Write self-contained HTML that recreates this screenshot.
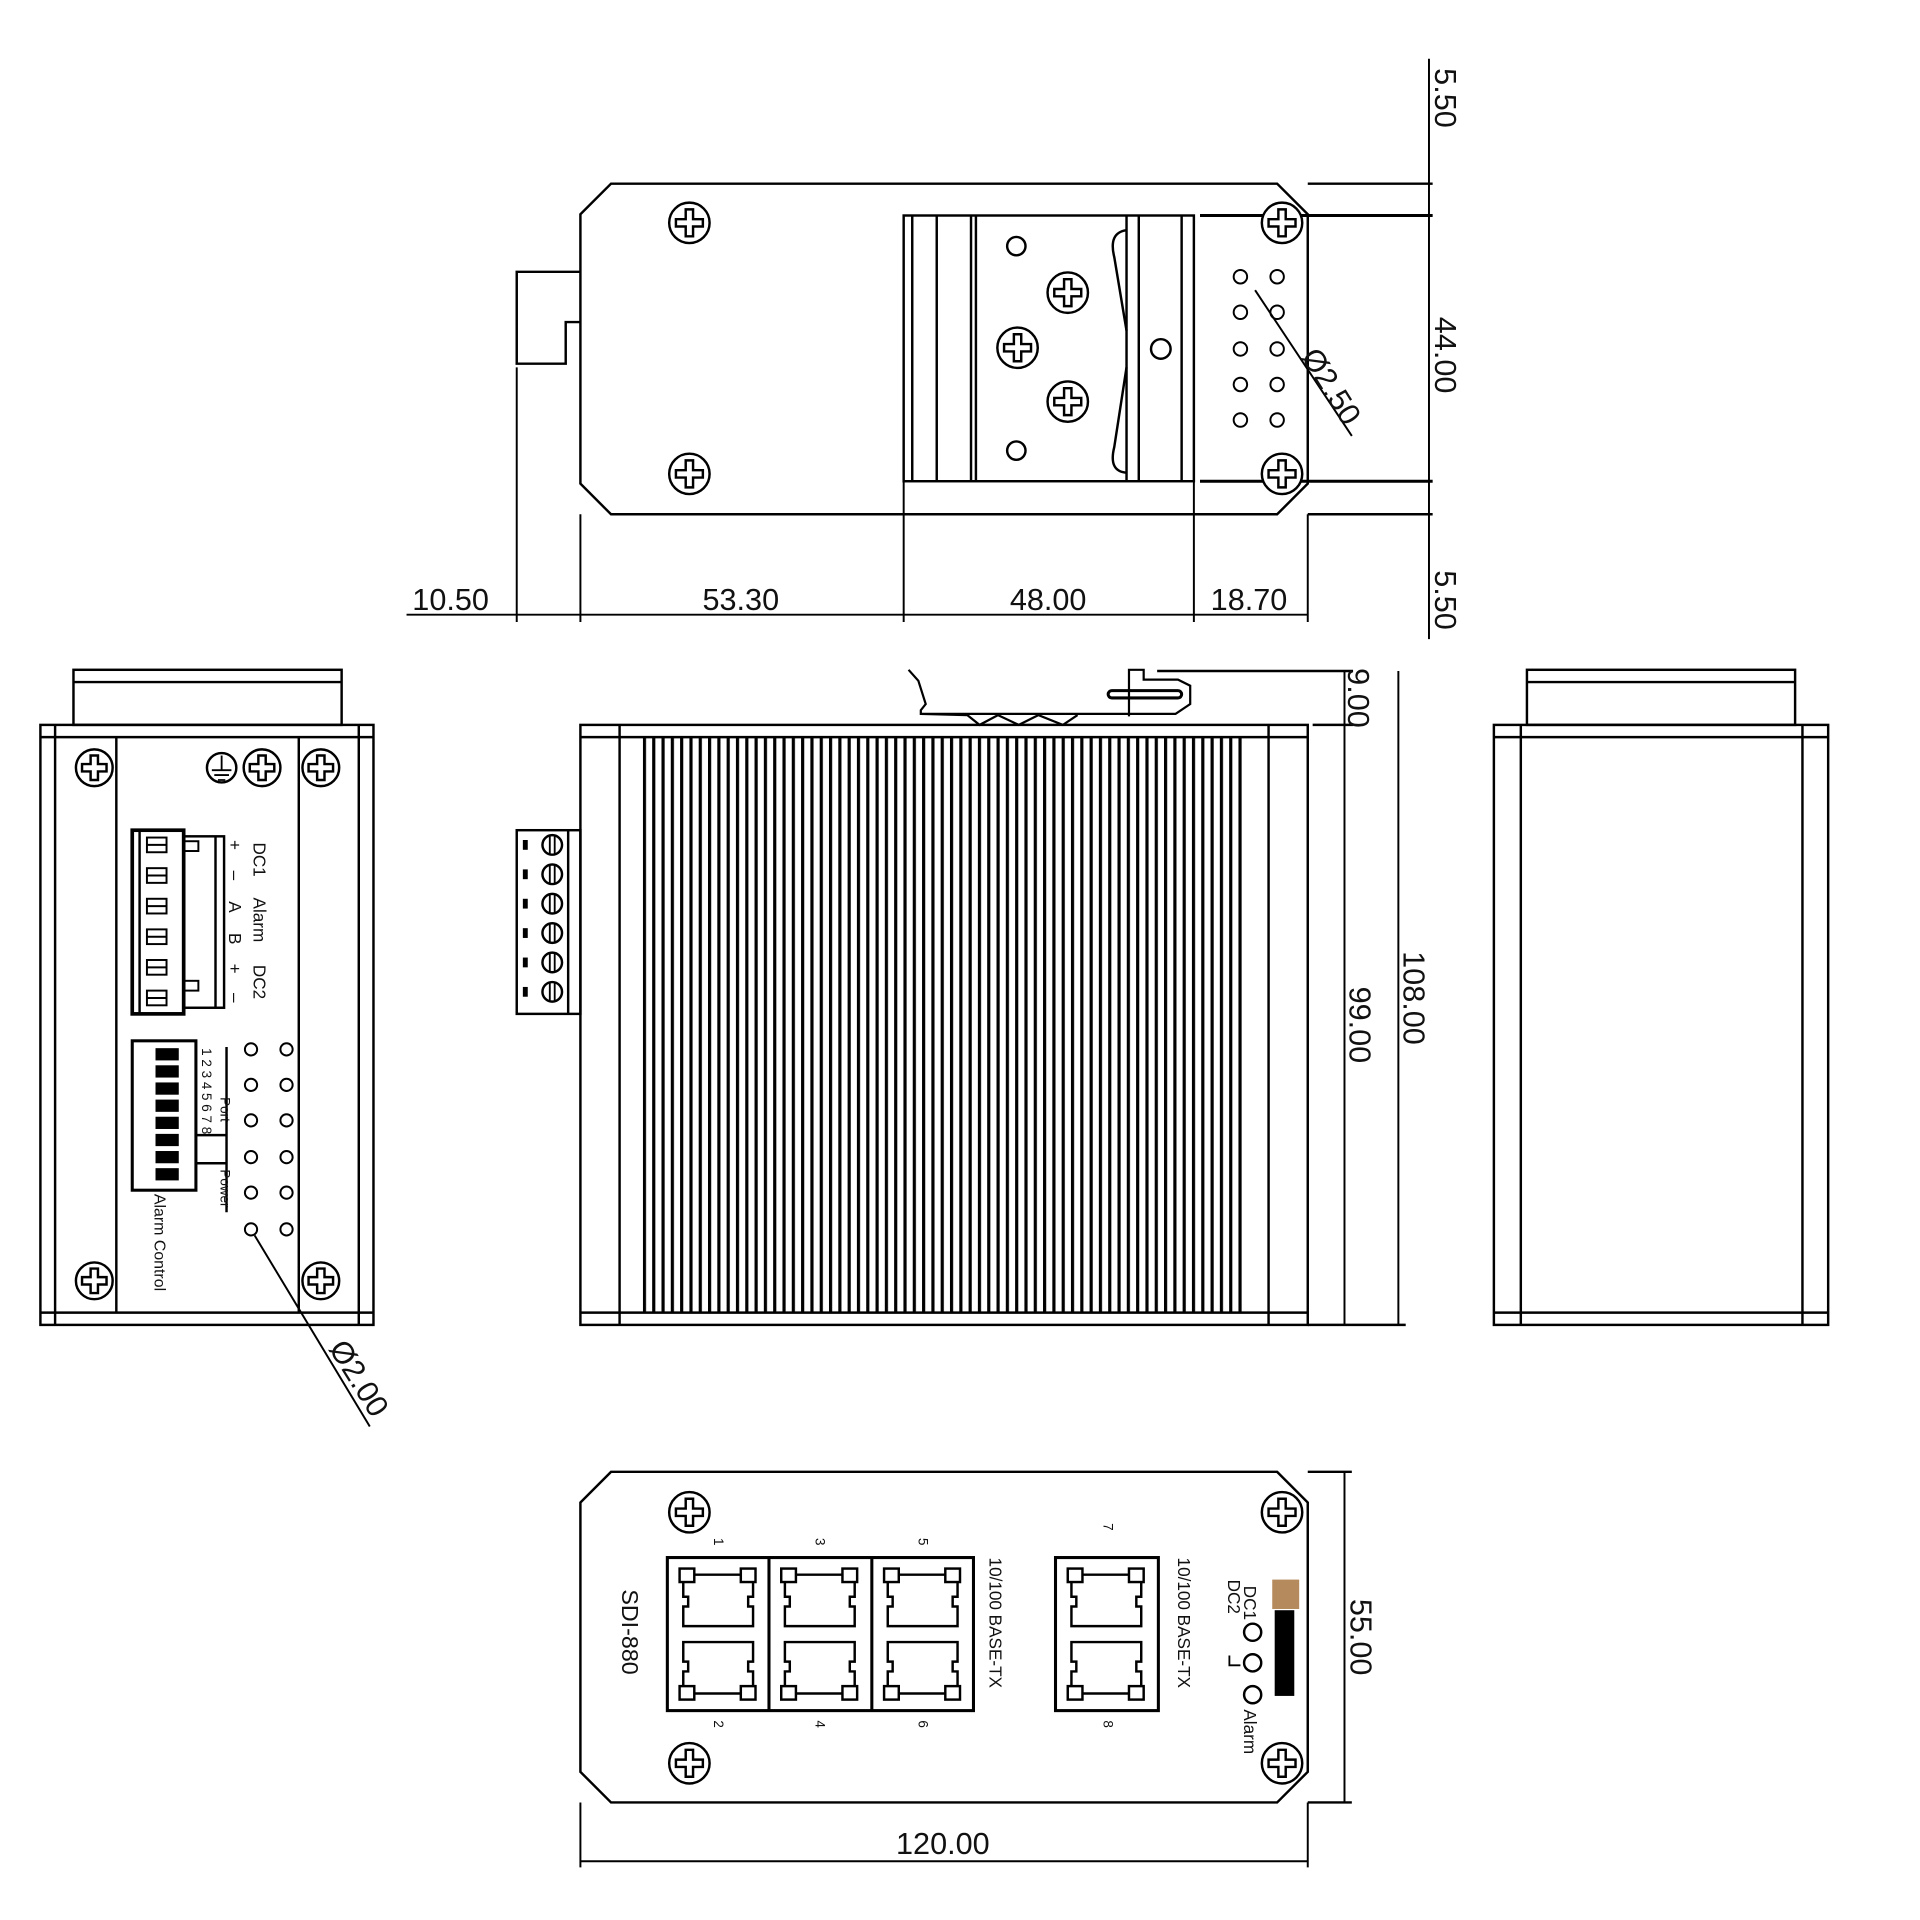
<!DOCTYPE html>
<html><head><meta charset="utf-8"><style>
html,body{margin:0;padding:0;background:#fff;overflow:hidden}
svg{display:block}
text{font-family:"Liberation Sans",sans-serif;fill:#111}
</style></head><body>
<svg width="1920" height="1920" viewBox="0 0 1568 1568" xmlns="http://www.w3.org/2000/svg">
<defs>
<g id="scr">
<circle r="16.5" fill="#fff" stroke="#000" stroke-width="2"/>
<path d="M-3,-11 H3 V-3 H11 V3 H3 V11 H-3 V3 H-11 V-3 H-3 Z" fill="none" stroke="#000" stroke-width="2"/>
</g>
<g id="scs">
<circle r="15" fill="#fff" stroke="#000" stroke-width="2"/>
<path d="M-3,-10 H3 V-3 H10 V3 H3 V10 H-3 V3 H-10 V-3 H-3 Z" fill="none" stroke="#000" stroke-width="2"/>
</g>
<g id="jack">
<path d="M13,14 H70 V32 H66 V40 H70 V56 H13 V40 H17 V32 H13 Z" fill="none" stroke="#000" stroke-width="2"/>
<rect x="10" y="9" width="12" height="11" fill="#fff" stroke="#000" stroke-width="2"/>
<rect x="60" y="9" width="12" height="11" fill="#fff" stroke="#000" stroke-width="2"/>
</g>
<pattern id="fins" x="525" y="0" width="7.6" height="10" patternUnits="userSpaceOnUse">
<rect x="0" y="0" width="2.6" height="10" fill="#000"/>
</pattern>
</defs>
<g fill="none" stroke="#000" stroke-width="2">
<!-- TOP VIEW -->
<path d="M499,150 H1043 L1068,175 V395 L1043,420 H499 L474,395 V175 Z"/>
<path d="M474,222 H422 V297 H462 V263 H474"/>
<rect x="738" y="176" width="237" height="217"/>
<line x1="745" y1="176" x2="745" y2="393"/><line x1="765" y1="176" x2="765" y2="393"/>
<line x1="793" y1="176" x2="793" y2="393"/><line x1="797" y1="176" x2="797" y2="393"/>
<line x1="920" y1="176" x2="920" y2="393"/><line x1="930" y1="176" x2="930" y2="393"/>
<line x1="965" y1="176" x2="965" y2="393"/>
<path d="M920,188 Q905,190 910,210 L920,270 M920,300 L910,365 Q905,385 920,386" />
<circle cx="830" cy="201" r="7.5"/><circle cx="830" cy="368" r="7.5"/><circle cx="948" cy="285" r="8"/>
<g stroke-width="1.6">
<circle cx="1013" cy="226" r="5.5"/><circle cx="1043" cy="226" r="5.5"/>
<circle cx="1013" cy="255" r="5.5"/><circle cx="1043" cy="255" r="5.5"/>
<circle cx="1013" cy="285" r="5.5"/><circle cx="1043" cy="285" r="5.5"/>
<circle cx="1013" cy="314" r="5.5"/><circle cx="1043" cy="314" r="5.5"/>
<circle cx="1013" cy="343" r="5.5"/><circle cx="1043" cy="343" r="5.5"/>
</g>
<line x1="1025" y1="237" x2="1104" y2="356" stroke-width="1.6"/>
<line x1="980" y1="176" x2="1170" y2="176" stroke-width="2.5"/>
<line x1="980" y1="393" x2="1170" y2="393" stroke-width="2.5"/>
<line x1="1068" y1="150" x2="1170" y2="150"/>
<line x1="1068" y1="420" x2="1170" y2="420"/>
<line x1="1167" y1="48" x2="1167" y2="522" stroke-width="1.6"/>
<line x1="332" y1="502" x2="1068" y2="502" stroke-width="1.6"/>
<line x1="422" y1="300" x2="422" y2="508" stroke-width="1.6"/>
<line x1="474" y1="420" x2="474" y2="508" stroke-width="1.6"/>
<line x1="738" y1="393" x2="738" y2="508" stroke-width="1.6"/>
<line x1="975" y1="393" x2="975" y2="508" stroke-width="1.6"/>
<line x1="1068" y1="420" x2="1068" y2="508" stroke-width="1.6"/>

<!-- LEFT (FRONT) VIEW -->
<rect x="60" y="547" width="219" height="45"/><line x1="60" y1="557" x2="279" y2="557"/>
<rect x="33" y="592" width="272" height="490"/>
<line x1="33" y1="602" x2="305" y2="602"/><line x1="33" y1="1072" x2="305" y2="1072"/>
<line x1="45" y1="592" x2="45" y2="1082"/><line x1="95" y1="602" x2="95" y2="1072"/>
<line x1="244" y1="602" x2="244" y2="1072"/><line x1="293" y1="592" x2="293" y2="1082"/>
<rect x="108" y="678" width="42" height="150" stroke-width="3"/>
<rect x="150" y="683" width="33" height="140"/><line x1="176" y1="683" x2="176" y2="823"/>
<line x1="114" y1="678" x2="114" y2="828"/>
<g stroke-width="1.6">
<rect x="120" y="684" width="16" height="12"/><rect x="120" y="709" width="16" height="12"/>
<rect x="120" y="734" width="16" height="12"/><rect x="120" y="759" width="16" height="12"/>
<rect x="120" y="784" width="16" height="12"/><rect x="120" y="809" width="16" height="12"/>
<line x1="120" y1="690" x2="136" y2="690"/><line x1="120" y1="715" x2="136" y2="715"/>
<line x1="120" y1="740" x2="136" y2="740"/><line x1="120" y1="765" x2="136" y2="765"/>
<line x1="120" y1="790" x2="136" y2="790"/><line x1="120" y1="815" x2="136" y2="815"/>
<rect x="150" y="687" width="12" height="8"/><rect x="150" y="801" width="12" height="8"/>
</g>
<rect x="108" y="850" width="52" height="122" stroke-width="2.5"/>
<path d="M160,927 H185 V855 M185,927 V990 M160,950 H185"/>
<g stroke-width="1.6">
<circle cx="205" cy="857" r="5"/><circle cx="234" cy="857" r="5"/>
<circle cx="205" cy="886" r="5"/><circle cx="234" cy="886" r="5"/>
<circle cx="205" cy="915" r="5"/><circle cx="234" cy="915" r="5"/>
<circle cx="205" cy="945" r="5"/><circle cx="234" cy="945" r="5"/>
<circle cx="205" cy="974" r="5"/><circle cx="234" cy="974" r="5"/>
<circle cx="205" cy="1004" r="5"/><circle cx="234" cy="1004" r="5"/>
<line x1="208" y1="1009" x2="302" y2="1165"/>
</g>
<circle cx="181" cy="627" r="12"/>
<path d="M181,617 V629 M173,629 H189 M175,633 H187 M178,637 H184" stroke-width="1.5"/>

<!-- SIDE VIEW -->
<rect x="474" y="592" width="594" height="490"/>
<line x1="474" y1="602" x2="1068" y2="602"/><line x1="474" y1="1072" x2="1068" y2="1072"/>
<line x1="506" y1="592" x2="506" y2="1082"/><line x1="1036" y1="592" x2="1036" y2="1082"/>
<rect x="422" y="678" width="52" height="150"/>
<line x1="464" y1="678" x2="464" y2="828"/>
<path d="M742,547 L750,556 L756,575 L752,580 V583 H960 L972,575 V560 L962,555 H934 V547 H922 V585 M752,583 L790,584 M790,584 L800,592 L815,584 L832,592 L848,584 L868,592 L880,584" stroke-width="1.8"/>
<rect x="905" y="564" width="60" height="6" rx="3" stroke-width="2.5"/>
<line x1="945" y1="548" x2="1105" y2="548"/>
<line x1="1072" y1="592" x2="1105" y2="592"/>
<line x1="1098" y1="548" x2="1098" y2="1082" stroke-width="1.6"/>
<line x1="1142" y1="548" x2="1142" y2="1082" stroke-width="1.6"/>
<line x1="1068" y1="1082" x2="1148" y2="1082"/>

<!-- RIGHT VIEW -->
<rect x="1247" y="547" width="219" height="45"/><line x1="1247" y1="557" x2="1466" y2="557"/>
<rect x="1220" y="592" width="273" height="490"/>
<line x1="1220" y1="602" x2="1493" y2="602"/><line x1="1220" y1="1072" x2="1493" y2="1072"/>
<line x1="1242" y1="592" x2="1242" y2="1082"/><line x1="1472" y1="592" x2="1472" y2="1082"/>

<!-- BOTTOM VIEW -->
<path d="M499,1202 H1043 L1068,1227 V1447 L1043,1472 H499 L474,1447 V1227 Z"/>
<rect x="545" y="1272" width="250" height="125" stroke-width="2.5"/>
<line x1="628" y1="1272" x2="628" y2="1397" stroke-width="2.5"/>
<line x1="712" y1="1272" x2="712" y2="1397" stroke-width="2.5"/>
<rect x="862" y="1272" width="84" height="125" stroke-width="2.5"/>
<line x1="1098" y1="1202" x2="1098" y2="1472" stroke-width="1.6"/>
<line x1="1068" y1="1202" x2="1104" y2="1202"/>
<line x1="1068" y1="1472" x2="1104" y2="1472"/>
<line x1="474" y1="1472" x2="474" y2="1525" stroke-width="1.6"/>
<line x1="1068" y1="1472" x2="1068" y2="1525" stroke-width="1.6"/>
<line x1="474" y1="1520" x2="1068" y2="1520" stroke-width="1.6"/>
<circle cx="1023" cy="1333" r="7"/><circle cx="1023" cy="1358" r="7"/><circle cx="1023" cy="1384" r="7"/>
<path d="M1004,1352 V1360 H1013" stroke-width="1.5"/>
</g>

<rect x="525" y="602" width="492" height="470" fill="url(#fins)"/>

<g fill="#fff" stroke="#000" stroke-width="2">
<circle cx="451" cy="690" r="8"/><circle cx="451" cy="714" r="8"/><circle cx="451" cy="738" r="8"/>
<circle cx="451" cy="762" r="8"/><circle cx="451" cy="786" r="8"/><circle cx="451" cy="810" r="8"/>
</g>
<g stroke="#000" stroke-width="1.5">
<line x1="449" y1="682" x2="449" y2="698"/><line x1="453" y1="682" x2="453" y2="698"/>
<line x1="449" y1="706" x2="449" y2="722"/><line x1="453" y1="706" x2="453" y2="722"/>
<line x1="449" y1="730" x2="449" y2="746"/><line x1="453" y1="730" x2="453" y2="746"/>
<line x1="449" y1="754" x2="449" y2="770"/><line x1="453" y1="754" x2="453" y2="770"/>
<line x1="449" y1="778" x2="449" y2="794"/><line x1="453" y1="778" x2="453" y2="794"/>
<line x1="449" y1="802" x2="449" y2="818"/><line x1="453" y1="802" x2="453" y2="818"/>
</g>
<g fill="#000">
<rect x="427" y="686" width="4" height="8"/><rect x="427" y="710" width="4" height="8"/>
<rect x="427" y="734" width="4" height="8"/><rect x="427" y="758" width="4" height="8"/>
<rect x="427" y="782" width="4" height="8"/><rect x="427" y="806" width="4" height="8"/>
<rect x="127" y="856" width="19" height="10"/><rect x="127" y="870" width="19" height="10"/>
<rect x="127" y="884" width="19" height="10"/><rect x="127" y="898" width="19" height="10"/>
<rect x="127" y="912" width="19" height="10"/><rect x="127" y="926" width="19" height="10"/>
<rect x="127" y="940" width="19" height="10"/><rect x="127" y="954" width="19" height="10"/>
<rect x="1041" y="1315" width="16" height="70"/>
</g>
<rect x="1039" y="1290" width="22" height="24" fill="#b58a5c"/>

<use href="#scr" x="563" y="182"/><use href="#scr" x="563" y="387"/>
<use href="#scr" x="1047" y="182"/><use href="#scr" x="1047" y="387"/>
<use href="#scr" x="872" y="239"/><use href="#scr" x="831" y="284"/><use href="#scr" x="872" y="328"/>
<use href="#scs" x="77" y="627"/><use href="#scs" x="262" y="627"/><use href="#scs" x="214" y="627"/>
<use href="#scs" x="77" y="1046"/><use href="#scs" x="262" y="1046"/>
<use href="#scr" x="563" y="1235"/><use href="#scr" x="563" y="1440"/>
<use href="#scr" x="1047" y="1235"/><use href="#scr" x="1047" y="1440"/>

<use href="#jack" x="545" y="1272"/><use href="#jack" x="628" y="1272"/><use href="#jack" x="712" y="1272"/><use href="#jack" x="862" y="1272"/>
<g transform="translate(0,2669) scale(1,-1)">
<use href="#jack" x="545" y="1272"/><use href="#jack" x="628" y="1272"/><use href="#jack" x="712" y="1272"/><use href="#jack" x="862" y="1272"/>
</g>

<g font-size="25">
<text x="368" y="498" text-anchor="middle">10.50</text>
<text x="605" y="498" text-anchor="middle">53.30</text>
<text x="856" y="498" text-anchor="middle">48.00</text>
<text x="1020" y="498" text-anchor="middle">18.70</text>
<text x="770" y="1514" text-anchor="middle">120.00</text>
<text transform="translate(1172,80) rotate(90)" text-anchor="middle">5.50</text>
<text transform="translate(1172,290) rotate(90)" text-anchor="middle">44.00</text>
<text transform="translate(1172,490) rotate(90)" text-anchor="middle">5.50</text>
<text transform="translate(1101,570) rotate(90)" text-anchor="middle">9.00</text>
<text transform="translate(1102,837) rotate(90)" text-anchor="middle">99.00</text>
<text transform="translate(1146,815) rotate(90)" text-anchor="middle">108.00</text>
<text transform="translate(1103,1337) rotate(90)" text-anchor="middle">55.00</text>
<text transform="translate(1080,320) rotate(58)" text-anchor="middle">Ø2.50</text>
<text transform="translate(286,1130) rotate(58)" text-anchor="middle">Ø2.00</text>
</g>
<g font-size="14">
<text transform="translate(207,688) rotate(90)">DC1</text>
<text transform="translate(207,733) rotate(90)">Alarm</text>
<text transform="translate(207,788) rotate(90)">DC2</text>
<text transform="translate(187,686) rotate(90)">+</text>
<text transform="translate(187,711) rotate(90)">–</text>
<text transform="translate(187,736) rotate(90)">A</text>
<text transform="translate(187,762) rotate(90)">B</text>
<text transform="translate(187,787) rotate(90)">+</text>
<text transform="translate(187,811) rotate(90)">–</text>
<text transform="translate(165,856) rotate(90)" font-size="11">1 2 3 4 5 6 7 8</text>
<text transform="translate(180,896) rotate(90)" font-size="11">Port</text>
<text transform="translate(180,955) rotate(90)" font-size="11">Power</text>
<text transform="translate(126,975) rotate(90)" font-size="13">Alarm Control</text>
<text transform="translate(508,1298) rotate(90)" font-size="19">SDI-880</text>
<text transform="translate(808,1272) rotate(90)">10/100 BASE-TX</text>
<text transform="translate(962,1272) rotate(90)">10/100 BASE-TX</text>
<text transform="translate(1016,1295) rotate(90)">DC1</text>
<text transform="translate(1003,1290) rotate(90)">DC2</text>
<text transform="translate(1016,1396) rotate(90)">Alarm</text>
</g>
<g font-size="11">
<text transform="translate(583,1256) rotate(90)">1</text>
<text transform="translate(666,1256) rotate(90)">3</text>
<text transform="translate(750,1256) rotate(90)">5</text>
<text transform="translate(901,1244) rotate(90)">7</text>
<text transform="translate(583,1405) rotate(90)">2</text>
<text transform="translate(666,1405) rotate(90)">4</text>
<text transform="translate(750,1405) rotate(90)">6</text>
<text transform="translate(901,1405) rotate(90)">8</text>
</g>
</svg>
</body></html>
